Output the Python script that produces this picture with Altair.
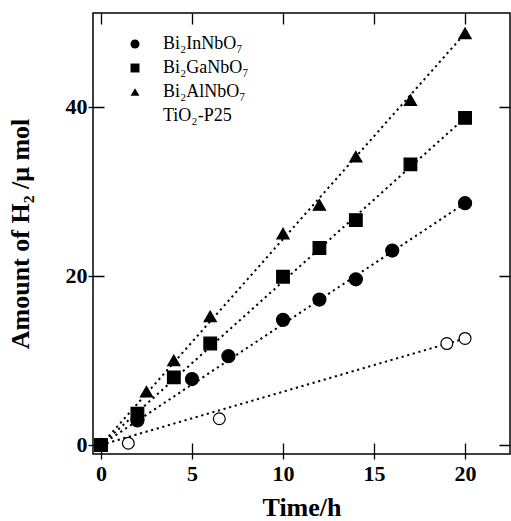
import altair as alt
import pandas as pd

# ---- data ----
series_names = ["Bi₂InNbO₇", "Bi₂GaNbO₇", "Bi₂AlNbO₇", "TiO₂-P25"]

in_x = [0, 2, 5, 7, 10, 12, 14, 16, 20]
in_y = [0, 2.9, 7.8, 10.5, 14.8, 17.2, 19.6, 23.0, 28.6]

ga_x = [0, 2, 4, 6, 10, 12, 14, 17, 20]
ga_y = [0, 3.7, 8.0, 12.0, 19.9, 23.3, 26.6, 33.2, 38.7]

al_x = [0, 2.5, 4, 6, 10, 12, 14, 17, 20]
al_y = [0, 6.3, 10.0, 15.2, 25.0, 28.4, 34.1, 40.8, 48.7]

ti_x = [0, 1.5, 6.5, 19, 20]
ti_y = [0, 0.2, 3.1, 12.0, 12.6]

# dotted guide lines (start / end)
fit_x = [0, 20]
fit_in = [0, 28.6]
fit_ga = [0, 38.7]
fit_al = [0, 48.7]
fit_ti = [0, 12.6]

x_ticks = [0, 5, 10, 15, 20]
y_ticks = [0, 20, 40]

# ---- tables ----
rows = []
for name, xs_, ys_ in [(series_names[3], ti_x, ti_y),
                       (series_names[0], in_x, in_y),
                       (series_names[2], al_x, al_y),
                       (series_names[1], ga_x, ga_y)]:
    for a, b in zip(xs_, ys_):
        rows.append({"series": name, "kind": name, "t": a, "h2": b, "order": len(rows)})
pts = pd.DataFrame(rows)

frows = []
for name, ys_ in zip(series_names, [fit_in, fit_ga, fit_al, fit_ti]):
    for a, b in zip(fit_x, ys_):
        frows.append({"series": name, "t": a, "h2": b})
fits = pd.DataFrame(frows)

FONT = "Liberation Serif"
W, H, TL = 417, 441, 11


def xs():
    return alt.Scale(domain=[-0.44, 22.47], nice=False, zero=False)


def ys():
    return alt.Scale(domain=[-1.07, 51.1], nice=False, zero=False)


lines = alt.Chart(fits).mark_line(
    color="black", strokeWidth=2, strokeDash=[2.2, 3.6], clip=True
).encode(
    x=alt.X("t:Q", scale=xs(),
            axis=alt.Axis(orient="bottom", values=x_ticks, title="Time/h",
                          domain=False, ticks=True, tickSize=5, tickWidth=1.3,
                          tickColor="black",
                          grid=True, gridColor="black", gridWidth=1.3, gridOpacity=1,
                          gridDash=[TL, H - 2 * TL],
                          labelFont=FONT, labelFontSize=22, labelFontWeight="bold",
                          labelColor="black", labelPadding=4,
                          titleFont=FONT, titleFontSize=26, titleFontWeight="bold",
                          titleColor="black", titlePadding=10)),
    y=alt.Y("h2:Q", scale=ys(),
            axis=alt.Axis(orient="left", values=y_ticks, title="Amount of H₂ /μ mol",
                          domain=False, ticks=True, tickSize=5, tickWidth=1.3,
                          tickColor="black",
                          grid=True, gridColor="black", gridWidth=1.3, gridOpacity=1,
                          gridDash=[TL, W - 2 * TL],
                          labelFont=FONT, labelFontSize=22, labelFontWeight="bold",
                          labelColor="black", labelPadding=1,
                          titleFont=FONT, titleFontSize=26, titleFontWeight="bold",
                          titleColor="black", titlePadding=32)),
    detail="series:N",
)

legend = alt.Legend(title=None, orient="none", legendX=33, legendY=22,
                    labelFont=FONT, labelFontSize=18, labelColor="black",
                    symbolSize=80, symbolStrokeWidth=1, symbolStrokeColor="black",
                    labelOffset=19, rowPadding=6, padding=0)

points = alt.Chart(pts).mark_point(
    filled=True, stroke="black", strokeWidth=1.2, opacity=1
).encode(
    x=alt.X("t:Q", scale=xs(),
            axis=alt.Axis(orient="top", values=x_ticks, labels=False, title=None,
                          domain=False, ticks=False, grid=False)),
    y=alt.Y("h2:Q", scale=ys(),
            axis=alt.Axis(orient="right", values=y_ticks, labels=False, title=None,
                          domain=False, ticks=False, grid=False)),
    shape=alt.Shape("series:N",
                    scale=alt.Scale(domain=series_names,
                                    range=["circle", "square", "triangle-up", "circle"]),
                    legend=legend),
    fill=alt.Fill("series:N",
                  scale=alt.Scale(domain=series_names,
                                  range=["black", "black", "black", "white"]),
                  legend=legend),
    size=alt.Size("kind:N",
                  scale=alt.Scale(domain=series_names, range=[170, 140, 190, 160]),
                  legend=None),
    order=alt.Order("order:Q"),
)

chart = alt.layer(lines, points).resolve_scale(
    x="independent", y="independent", shape="independent", fill="independent"
).resolve_axis(
    x="independent", y="independent"
).properties(
    width=W, height=H,
    autosize=alt.AutoSizeParams(type="none"),
    padding={"left": 93, "top": 13, "right": 1, "bottom": 67},
    background="white",
).configure_view(
    stroke="black", strokeWidth=1.5
)

chart.save("out.html", embed_options={"renderer": "svg", "actions": False})
